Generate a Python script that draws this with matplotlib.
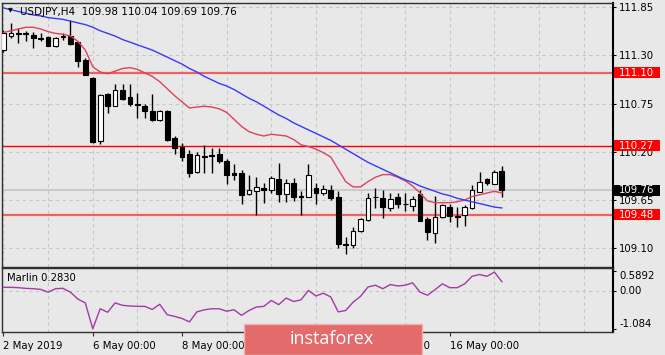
import numpy as np
import matplotlib
matplotlib.use("Agg")
import matplotlib.pyplot as plt
import matplotlib.transforms as mtransforms
from matplotlib.patches import Rectangle

plt.rcParams['font.family'] = ['DejaVu Sans']

# USDJPY H4, 2 May 2019 00:00 .. 17 May 2019 04:00, one value per bar
opens = [111.36, 111.52, 111.56, 111.55, 111.53, 111.50, 111.51, 111.41, 111.51, 111.52,
         111.45, 111.25, 111.04, 110.32, 110.86, 110.72, 110.91, 110.82, 110.74, 110.72,
         110.66, 110.56, 110.67, 110.36, 110.25, 110.17, 109.97, 110.15, 110.16, 110.17,
         110.09, 109.96, 109.96, 109.72, 109.75, 109.79, 109.76, 109.89, 109.72, 109.85,
         109.70, 109.68, 109.79, 109.73, 109.77, 109.68, 109.15, 109.14, 109.30, 109.42,
         109.69, 109.67, 109.56, 109.69, 109.61, 109.58, 109.72, 109.43, 109.27, 109.46,
         109.57, 109.47, 109.48, 109.56, 109.745, 109.89, 109.83, 109.98]
highs = [111.59, 111.67, 111.61, 111.58, 111.57, 111.55, 111.52, 111.51, 111.55, 111.70,
         111.45, 111.27, 111.05, 110.86, 110.87, 110.97, 110.97, 110.97, 110.87, 110.74,
         110.86, 110.68, 110.68, 110.38, 110.30, 110.22, 110.20, 110.28, 110.24, 110.24,
         110.12, 110.06, 109.99, 109.94, 109.91, 109.84, 109.92, 110.07, 109.89, 109.90,
         109.75, 110.06, 109.85, 109.82, 109.82, 109.75, 109.23, 109.34, 109.44, 109.73,
         109.79, 109.76, 109.73, 109.73, 109.73, 109.70, 109.77, 109.46, 109.70, 109.60,
         109.60, 109.57, 109.59, 109.82, 109.97, 109.905, 109.99, 110.04]
lows = [111.34, 111.50, 111.44, 111.46, 111.38, 111.46, 111.41, 111.40, 111.48, 111.42,
        111.17, 111.07, 110.30, 110.29, 110.64, 110.72, 110.79, 110.72, 110.58, 110.59,
        110.55, 110.55, 110.32, 110.18, 110.09, 109.91, 109.96, 109.96, 109.96, 110.07,
        109.83, 109.88, 109.61, 109.71, 109.48, 109.62, 109.73, 109.63, 109.63, 109.64,
        109.48, 109.68, 109.61, 109.71, 109.65, 109.10, 109.04, 109.10, 109.29, 109.41,
        109.56, 109.45, 109.52, 109.56, 109.53, 109.53, 109.41, 109.19, 109.16, 109.45,
        109.40, 109.34, 109.35, 109.55, 109.74, 109.82, 109.83, 109.69]
closes = [111.56, 111.56, 111.54, 111.54, 111.50, 111.49, 111.41, 111.50, 111.52, 111.43,
          111.23, 111.08, 110.31, 110.85, 110.72, 110.91, 110.80, 110.74, 110.73, 110.67,
          110.56, 110.67, 110.33, 110.24, 110.14, 109.96, 110.16, 110.14, 110.15, 110.09,
          109.94, 109.94, 109.71, 109.77, 109.80, 109.77, 109.90, 109.72, 109.84, 109.69,
          109.69, 109.94, 109.73, 109.78, 109.67, 109.15, 109.14, 109.30, 109.43, 109.67,
          109.68, 109.57, 109.66, 109.61, 109.60, 109.66, 109.41, 109.29, 109.46, 109.59,
          109.47, 109.46, 109.57, 109.76, 109.86, 109.85, 109.97, 109.76]

# moving averages as drawn on the chart
red_ma = [111.56, 111.58, 111.60, 111.62, 111.62, 111.60, 111.57, 111.55, 111.54, 111.52,
          111.46, 111.36, 111.17, 111.11, 111.09, 111.12, 111.15, 111.16, 111.14, 111.10,
          111.06, 111.00, 110.92, 110.84, 110.77, 110.70, 110.71, 110.72, 110.71, 110.69,
          110.65, 110.57, 110.49, 110.43, 110.40, 110.38, 110.40, 110.39, 110.38, 110.34,
          110.28, 110.26, 110.23, 110.19, 110.14, 110.00, 109.86, 109.80, 109.80, 109.86,
          109.91, 109.94, 109.94, 109.91, 109.87, 109.81, 109.73, 109.64, 109.62, 109.62,
          109.62, 109.63, 109.65, 109.69, 109.71, 109.73, 109.75, 109.73]
blue_ma = [111.84, 111.82, 111.80, 111.78, 111.76, 111.75, 111.73, 111.72, 111.71, 111.69,
           111.67, 111.65, 111.62, 111.58, 111.55, 111.52, 111.48, 111.45, 111.42, 111.39,
           111.36, 111.32, 111.28, 111.24, 111.20, 111.15, 111.11, 111.06, 111.02, 110.98,
           110.95, 110.91, 110.86, 110.81, 110.77, 110.72, 110.67, 110.62, 110.58, 110.53,
           110.49, 110.45, 110.41, 110.37, 110.33, 110.28, 110.23, 110.18, 110.13, 110.08,
           110.04, 110.00, 109.96, 109.92, 109.88, 109.85, 109.81, 109.78, 109.75, 109.72,
           109.70, 109.67, 109.65, 109.63, 109.61, 109.59, 109.57, 109.56]

marlin = [0.12, 0.12, 0.11, 0.09, 0.08, 0.06, -0.02, 0.08, 0.09, -0.02,
          -0.22, -0.33, -1.08, -0.50, -0.60, -0.33, -0.40, -0.42, -0.43, -0.43,
          -0.52, -0.37, -0.67, -0.72, -0.78, -0.88, -0.59, -0.53, -0.50, -0.50,
          -0.57, -0.53, -0.69, -0.55, -0.45, -0.43, -0.26, -0.38, -0.19, -0.29,
          -0.24, 0.03, -0.13, -0.05, -0.16, -0.59, -0.55, -0.31, -0.14, 0.13,
          0.18, 0.08, 0.20, 0.16, 0.18, 0.25, -0.02, -0.11, 0.05, 0.22,
          0.11, 0.11, 0.22, 0.44, 0.49, 0.44, 0.56, 0.283]

levels = [111.10, 110.27, 109.48]
level_colors = ['#f06060', '#ff0000', '#f06060']
level_widths = [1.6, 1.0, 1.6]
price_ticks = [109.10, 109.65, 110.20, 110.75, 111.30, 111.85]
marlin_ticks = [0.5892, 0.0, -1.084]
marlin_labels = ['0.5892', '0.00', '-1.084']
date_bars = [0, 12, 24, 36, 48, 60]
date_labels = ['2 May 2019', '6 May 00:00', '8 May 00:00', '10 May 00:00',
               '14 May 00:00', '16 May 00:00']

W, H = 665, 355
BG = '#e8e8e8'
FS = 7.3


def box(l, t, r, b):
    return [l / W, 1 - b / H, (r - l) / W, (b - t) / H]


fig = plt.figure(figsize=(W / 100, H / 100), dpi=100)
fig.patch.set_facecolor(BG)
ax = fig.add_axes(box(2, 2.7, 612.7, 266.7))
ax2 = fig.add_axes(box(2, 268.3, 612.7, 332.3))

for a in (ax, ax2):
    a.set_facecolor(BG)
    a.set_xlim(-0.2, 81.9)
    for s in a.spines.values():
        s.set_color('#303030')
        s.set_linewidth(1)
    a.spines['right'].set_color('black')
    a.spines['right'].set_linewidth(1.5)

# ---- price panel
o, h, l, c = (np.array(v) for v in (opens, highs, lows, closes))
idx = np.arange(len(o))
up = c >= o
ax.vlines(idx, l, h, color='black', lw=1, zorder=3)
ax.bar(idx[up], c[up] - o[up], bottom=o[up], width=0.64, color='white',
       edgecolor='black', lw=0.8, zorder=4)
ax.bar(idx[~up], c[~up] - o[~up], bottom=o[~up], width=0.64, color='black',
       edgecolor='black', lw=0.8, zorder=4)
ax.plot(idx, red_ma, color='#e0405e', lw=1, zorder=5)
ax.plot(idx, blue_ma, color='#3a3af5', lw=1, zorder=5)

for lv, col, lw in zip(levels, level_colors, level_widths):
    ax.axhline(lv, color=col, lw=lw, zorder=2)
ax.axhline(c[-1], color='#c4c4c4', lw=1.2, zorder=1)

ax.set_ylim(108.89, 111.90)
ax.yaxis.tick_right()
ax.set_yticks(price_ticks)
ax.set_yticklabels(['%.2f' % v for v in price_ticks])
ax.set_xticks(range(0, 82, 6))
ax.tick_params(axis='x', length=0, labelbottom=False)
ax.tick_params(axis='y', length=2, pad=2.6, labelsize=FS, color='black')
ax.grid(True, ls=(0, (3, 3)), color='#c6c6c6', lw=0.8)
ax.set_axisbelow(True)

tr = mtransforms.blended_transform_factory(ax.transAxes, ax.transData)
half = 5.5 * (111.90 - 108.89) / 264
for lv, fc in list(zip(levels, ['#ff0000'] * 3)) + [(c[-1], 'black')]:
    ax.add_patch(Rectangle((1.0021, lv - half), 0.0753, 2 * half, transform=tr,
                           clip_on=False, fc=fc, ec='none', zorder=10))
    ax.text(1.0098, lv, '%.2f' % lv, transform=tr, color='white', fontsize=FS,
            va='center', ha='left', zorder=11, clip_on=False)

fig.text(10 / W, 1 - 11 / H, '\u25bc', fontsize=4.5, ha='center', va='center')
fig.text(20 / W, 1 - 12.3 / H,
         'USDJPY,H4  %.2f %.2f %.2f %.2f' % (o[-1], h[-1], l[-1], c[-1]),
         fontsize=7.5, va='center')

# ---- Marlin panel
ax2.plot(idx, marlin, color='#a23aa8', lw=1, zorder=3)
ax2.axhline(0, ls=(0, (3, 3)), color='#c6c6c6', lw=0.8, zorder=1)
ax2.set_ylim(-1.18, 0.67)
ax2.yaxis.tick_right()
ax2.set_yticks(marlin_ticks)
ax2.set_yticklabels(marlin_labels)
for t, va in zip(ax2.get_yticklabels(), ['top', 'center', 'bottom']):
    t.set_va(va)
ax2.tick_params(axis='y', length=2, pad=2.6, labelsize=FS, color='black')
ax2.set_xticks(date_bars)
ax2.set_xticklabels(date_labels, ha='left')
ax2.set_xticks(range(0, 82, 6), minor=True)
ax2.tick_params(axis='x', which='major', length=3, pad=3, labelsize=FS, color='#303030')
ax2.tick_params(axis='x', which='minor', length=0)
ax2.grid(True, which='minor', axis='x', ls=(0, (3, 3)), color='#c6c6c6', lw=0.8)
ax2.set_axisbelow(True)
fig.text(6.7 / W, 1 - 278 / H, 'Marlin %.4f' % marlin[-1], fontsize=7.2, va='center')

# ---- watermark
fig.patches.append(Rectangle((243.5 / W, 0), 178 / W, (355 - 323.7) / H,
                             transform=fig.transFigure, fc='#e46b6b',
                             ec='#f4b0b0', lw=1, zorder=5))
fig.text(332 / W, 1 - 339 / H, 'instaforex', color='white', fontsize=13,
         family=['Open Sans', 'DejaVu Sans'], ha='center', va='center', zorder=6)

fig.savefig('out.png', dpi=100, facecolor=BG)
